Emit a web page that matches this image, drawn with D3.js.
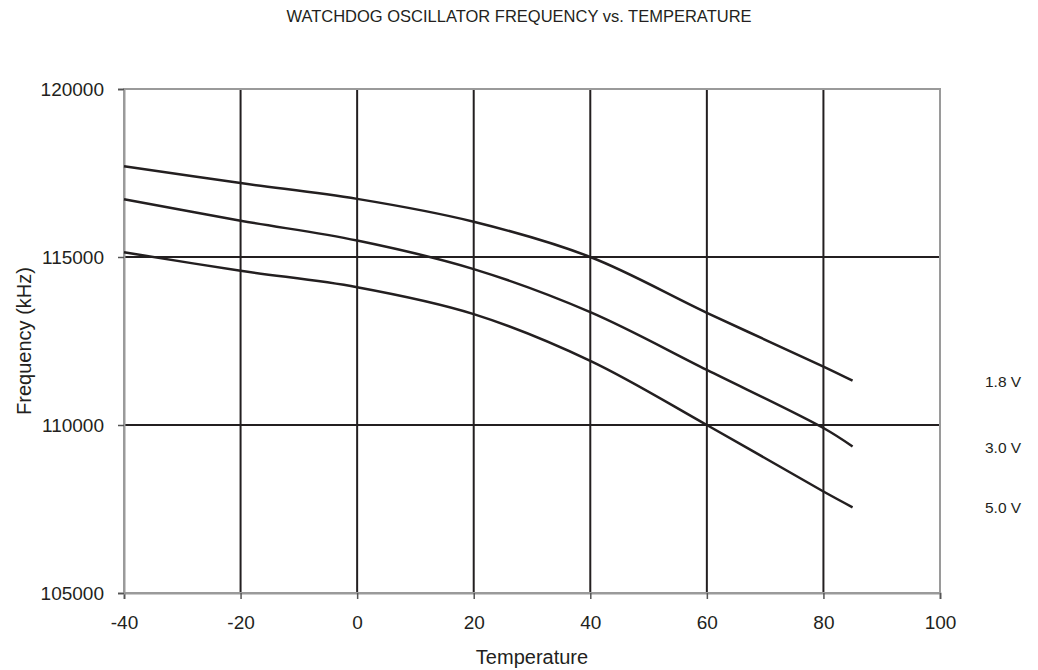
<!DOCTYPE html>
<html><head><meta charset="utf-8">
<script src="https://cdn.jsdelivr.net/npm/d3@7"></script>
<style>body{margin:0;background:#fff;} svg{display:block;font-family:"Liberation Sans",Arial,sans-serif;}</style>
</head><body>
<svg id="c" width="1038" height="670"></svg>
<script>
const temps = [-40, -20, 0, 20, 40, 60, 80, 85];
const v18 = [117700, 117200, 116730, 116050, 115000, 113340, 111740, 111320];
const v30 = [116720, 116080, 115490, 114640, 113360, 111640, 109910, 109360];
const v50 = [115140, 114590, 114100, 113300, 111910, 110000, 108020, 107550];
const seriesLabels = ["1.8 V", "3.0 V", "5.0 V"];
const xTicks = [-40, -20, 0, 20, 40, 60, 80, 100];
const yTicks = [105000, 110000, 115000, 120000];

const svg = d3.select("#c");
const L = 124, R = 940, T = 89, B = 593;
const x = d3.scaleLinear().domain([-40, 100]).range([L, R]);
const y = d3.scaleLinear().domain([105000, 120000]).range([B, T]);
const ink = "#231f20", frame = "#9a9a9a";
const FF = "Liberation Sans, Arial, sans-serif";

svg.append("text").attr("x", 519).attr("y", 22).attr("text-anchor", "middle")
  .attr("font-size", 16.5).attr("fill", ink).text("WATCHDOG OSCILLATOR FREQUENCY vs. TEMPERATURE");

// interior gridlines
const g = svg.append("g");
g.selectAll("line.vx").data(xTicks.filter(d => d > -40 && d < 100)).join("line")
  .attr("x1", d => x(d)).attr("x2", d => x(d)).attr("y1", T).attr("y2", B)
  .attr("stroke", ink).attr("stroke-width", 2);
g.selectAll("line.hy").data(yTicks.filter(d => d > 105000 && d < 120000)).join("line")
  .attr("y1", d => y(d)).attr("y2", d => y(d)).attr("x1", L).attr("x2", R)
  .attr("stroke", ink).attr("stroke-width", 2);

// frame
svg.append("rect").attr("x", L).attr("y", T).attr("width", R - L).attr("height", B - T)
  .attr("fill", "none").attr("stroke", frame).attr("stroke-width", 2);

// axes
const xa = svg.append("g").attr("transform", `translate(0,${B})`)
  .call(d3.axisBottom(x).tickValues(xTicks).tickSize(6).tickPadding(17).tickFormat(d => String(d)));
const ya = svg.append("g").attr("transform", `translate(${L},0)`)
  .call(d3.axisLeft(y).tickValues(yTicks).tickSize(6).tickPadding(14).tickFormat(d => String(d)));
[xa, ya].forEach(a => {
  a.attr("font-family", FF);
  a.select(".domain").attr("stroke", frame).attr("stroke-width", 2);
  a.selectAll(".tick line").attr("stroke", "#555").attr("stroke-width", 1.5);
  a.selectAll(".tick text").attr("font-size", 19).attr("fill", ink);
});

// curves
const line = d3.line().x(d => x(d[0])).y(d => y(d[1])).curve(d3.curveCatmullRom.alpha(0.5));
const all = [v18, v30, v50];
svg.append("g").selectAll("path").data(all).join("path")
  .attr("d", vals => line(temps.map((t, i) => [t, vals[i]])))
  .attr("fill", "none").attr("stroke", ink).attr("stroke-width", 2.5);

// series labels
svg.append("g").selectAll("text").data(all).join("text")
  .attr("x", 985).attr("y", d => y(d[d.length - 1]) + 6)
  .attr("font-size", 15.5).attr("fill", ink).text((d, i) => seriesLabels[i]);

// axis titles
svg.append("text").attr("x", 532).attr("y", 664).attr("text-anchor", "middle")
  .attr("font-size", 20).attr("fill", ink).text("Temperature");
svg.append("text").attr("transform", `translate(31,${(267 + 415) / 2}) rotate(-90)`)
  .attr("text-anchor", "middle").attr("font-size", 20).attr("fill", ink).text("Frequency (kHz)");
</script>
</body></html>
